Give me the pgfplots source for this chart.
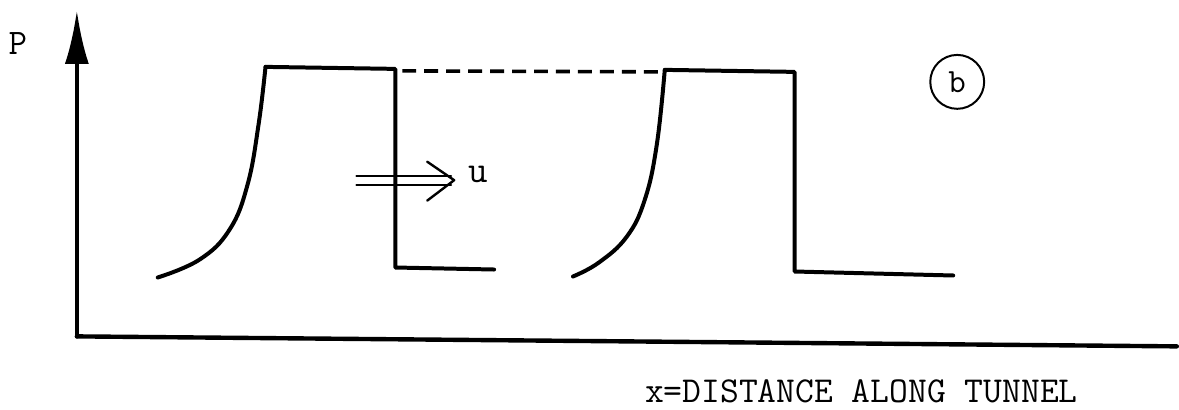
\documentclass[border=0pt]{standalone}
\usepackage{pgfplots}
\pgfplotsset{compat=1.18}
\usetikzlibrary{arrows.meta}
\begin{document}
\begin{tikzpicture}
\begin{axis}[
  width=589.5pt, height=205pt, scale only axis,
  xmin=0, xmax=1179, ymin=0, ymax=410, y dir=reverse,
  hide axis, clip=false,
  every axis plot/.append style={black, line width=2pt, line join=round, line cap=round},
]
% invisible frame, pixel coordinates of the sketch
\addplot[draw=none] coordinates {(0,0) (1179,410)};
% axes
\addplot[line width=2.2pt] coordinates {(77,337) (1179,347)};
\addplot[line width=2.2pt, -{Latex[length=27pt,width=12pt]}] coordinates {(77,337) (77,10)};
% first pulse
\addplot[smooth, tension=0.7] coordinates
  {(158,278) (200,260) (230,230) (248,185) (259,125) (266,67)};
\addplot[sharp plot] coordinates {(266,67) (396,69) (396,268) (495,270)};
% dashed top
\addplot[sharp plot, line width=1.8pt, dash pattern=on 7pt off 4pt, line cap=butt] coordinates {(403,71) (662,72)};
% second pulse
\addplot[smooth, tension=0.7] coordinates
  {(574,277) (600,263) (628,237) (646,200) (658,145) (666,70)};
\addplot[sharp plot] coordinates {(666,70) (796,72) (796,272) (955,276)};
% double arrow u
\addplot[line width=1pt] coordinates {(357,176) (452,176)};
\addplot[line width=1pt] coordinates {(357,185) (452,185)};
\addplot[line width=1.2pt] coordinates {(428,162) (455,180.5) (428,201)};
\node[font=\ttfamily\fontsize{19}{19}\selectfont] at (axis cs:479,175) {u};
\node[font=\ttfamily\fontsize{18}{18}\selectfont] at (axis cs:18,44) {P};
\node[circle, draw, line width=1pt, minimum size=27pt, inner sep=0pt,
  font=\ttfamily\fontsize{17}{17}\selectfont] at (axis cs:959,82) {b};
\node[font=\ttfamily\fontsize{18.3}{18.3}\selectfont] at (axis cs:863,392) {x=DISTANCE ALONG TUNNEL};
\end{axis}
\end{tikzpicture}
\end{document}
